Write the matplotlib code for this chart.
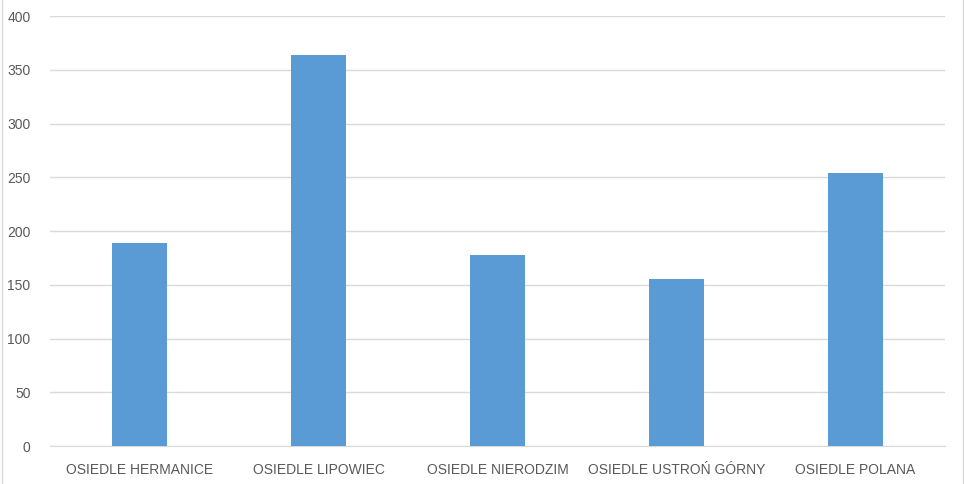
import matplotlib.pyplot as plt
import numpy as np

categories = [
    "OSIEDLE HERMANICE",
    "OSIEDLE LIPOWIEC",
    "OSIEDLE NIERODZIM",
    "OSIEDLE USTROŃ GÓRNY",
    "OSIEDLE POLANA",
]
values = [189, 364, 178, 155, 254]

yticks = [0, 50, 100, 150, 200, 250, 300, 350, 400]

plt.rcParams["font.family"] = ["Liberation Sans", "DejaVu Sans"]

fig = plt.figure(figsize=(9.64, 4.84), dpi=100)
ax = fig.add_axes([50 / 964, 1 - 446 / 484, 895 / 964, 430 / 484])

x = np.arange(len(categories))
ax.bar(x, values, width=0.31, color="#5B9BD5", zorder=3)

ax.set_xlim(-0.5, len(categories) - 0.5)
ax.set_ylim(0, 400)
ax.set_yticks(yticks)
ax.set_xticks(x)
ax.set_xticklabels(categories)
ax.tick_params(axis="both", length=0, colors="#595959", labelsize=10)
ax.tick_params(axis="x", pad=12)
ax.tick_params(axis="y", pad=14)
ax.yaxis.grid(True, color="#D9D9D9", linewidth=1, zorder=0)
for side in ["top", "right", "left"]:
    ax.spines[side].set_visible(False)
ax.spines["bottom"].set_color("#D9D9D9")

# faint outer chart border
fig.add_artist(plt.Line2D([1.5 / 964, 1.5 / 964], [0, 1], color="#D9D9D9", lw=1))
fig.add_artist(plt.Line2D([962.5 / 964, 962.5 / 964], [0, 1], color="#D9D9D9", lw=1))

fig.savefig("out.png", dpi=100)
